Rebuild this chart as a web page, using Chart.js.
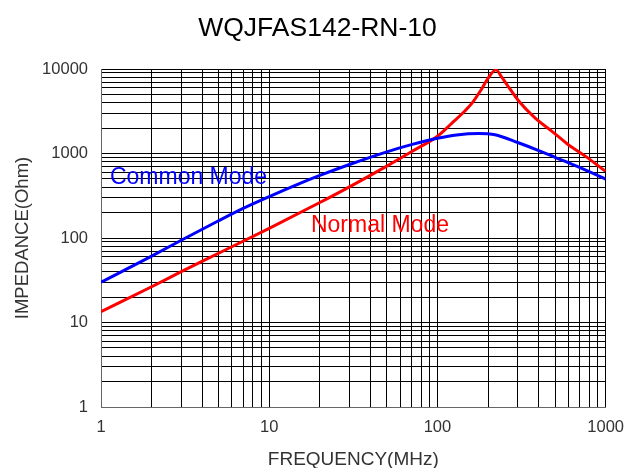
<!DOCTYPE html>
<html>
<head>
<meta charset="utf-8">
<title>WQJFAS142-RN-10</title>
<script src="https://cdn.jsdelivr.net/npm/chart.js@4/dist/chart.umd.min.js"></script>
<style>
  html, body { margin: 0; padding: 0; background: #fff; }
  canvas { display: block; }
</style>
</head>
<body>
<canvas id="chart" width="635" height="468"></canvas>
<script>
const chartTitle = 'WQJFAS142-RN-10';

// impedance curves (MHz, Ohm)
const cmFreq = [1, 2, 3, 5, 7, 10, 15, 20, 30, 50, 70, 100, 130, 176, 220, 300, 400, 500, 700, 1000];
const cmZ    = [30, 61, 94, 160, 224, 309, 437, 550, 741, 1047, 1274, 1514, 1660, 1726, 1667, 1349, 1084, 902, 684, 498];

const nmFreq = [1, 2, 3, 5, 10, 20, 30, 50, 70, 100, 122, 145, 161, 180, 200, 223, 240, 260, 305, 380, 480, 600, 760, 1000];
const nmZ    = [13.4, 26.5, 40, 66, 130, 263, 403, 708, 1047, 1603, 2290, 3160, 3970, 5500, 7760, 9770, 8130, 6460, 4150, 2640, 1830, 1270, 925, 614];

// decades carry labels, 2..9 multiples are grid only
const xDecades = [1, 10, 100, 1000];
const yDecades = [1, 10, 100, 1000, 10000];

// in-plot captions, placed in data units
const labelText  = ['Common Mode', 'Normal Mode'];
const labelFreq  = [1.13, 17.7];
const labelZ     = [516, 139];
const labelColor = ['#0000ff', '#ff0000'];

const FONT = '"Liberation Sans", Arial, sans-serif';

function gridValues(decades) {
  const out = [];
  decades.forEach((d, i) => {
    if (i === decades.length - 1) { out.push(d); return; }
    for (let m = 1; m <= 9; m++) out.push(d * m);
  });
  return out;
}

const pts = (fs, zs) => fs.map((f, i) => ({ x: f, y: zs[i] }));

const captions = {
  id: 'captions',
  afterDatasetsDraw(chart) {
    const { ctx, scales } = chart;
    ctx.save();
    ctx.font = '23px ' + FONT;
    ctx.textAlign = 'left';
    ctx.textBaseline = 'middle';
    labelText.forEach((t, i) => {
      ctx.fillStyle = labelColor[i];
      ctx.fillText(t, scales.x.getPixelForValue(labelFreq[i]), scales.y.getPixelForValue(labelZ[i]));
    });
    // title centred on the whole canvas, not on the padded layout box
    ctx.fillStyle = '#000';
    ctx.font = '26.5px ' + FONT;
    ctx.textAlign = 'center';
    ctx.textBaseline = 'alphabetic';
    ctx.fillText(chartTitle, chart.width / 2, 36);
    ctx.restore();
  }
};

function logAxis(decades, pad, title, fit) {
  return {
    type: 'logarithmic',
    min: decades[0],
    max: decades[decades.length - 1],
    afterBuildTicks: (s) => { s.ticks = gridValues(decades).map(v => ({ value: v })); },
    afterFit: fit,
    ticks: {
      autoSkip: false,
      maxRotation: 0,
      padding: pad,
      color: '#333',
      font: { family: FONT, size: 16.5 },
      callback: (v) => decades.includes(v) ? String(v) : ''
    },
    grid: { color: '#000', lineWidth: 1, drawTicks: false },
    border: { color: '#666', width: 1 },
    title: title
  };
}

new Chart(document.getElementById('chart'), {
  type: 'line',
  data: {
    datasets: [
      { label: 'Common Mode', data: pts(cmFreq, cmZ), borderColor: '#0000ff', borderWidth: 3,
        pointRadius: 0, cubicInterpolationMode: 'monotone', fill: false },
      { label: 'Normal Mode', data: pts(nmFreq, nmZ), borderColor: '#ff0000', borderWidth: 3,
        pointRadius: 0, cubicInterpolationMode: 'monotone', fill: false }
    ]
  },
  options: {
    responsive: false,
    animation: false,
    layout: { padding: { left: 0, right: 28, top: 69, bottom: 0 } },
    plugins: {
      legend: { display: false },
      tooltip: { enabled: false },
      title: { display: false }
    },
    scales: {
      x: logAxis(xDecades, 11, {
        display: true, text: 'FREQUENCY(MHz)', color: '#333',
        font: { family: FONT, size: 19, lineHeight: 0.85 }, padding: { top: 0, bottom: 0 }
      }, (s) => { s.height = 61; }),
      y: logAxis(yDecades, 13, {
        display: true, text: 'IMPEDANCE(Ohm)', color: '#333',
        font: { family: FONT, size: 18.5 }, padding: { top: 12, bottom: 0 }
      }, (s) => { s.width = 101; })
    }
  },
  plugins: [captions]
});
</script>
</body>
</html>
